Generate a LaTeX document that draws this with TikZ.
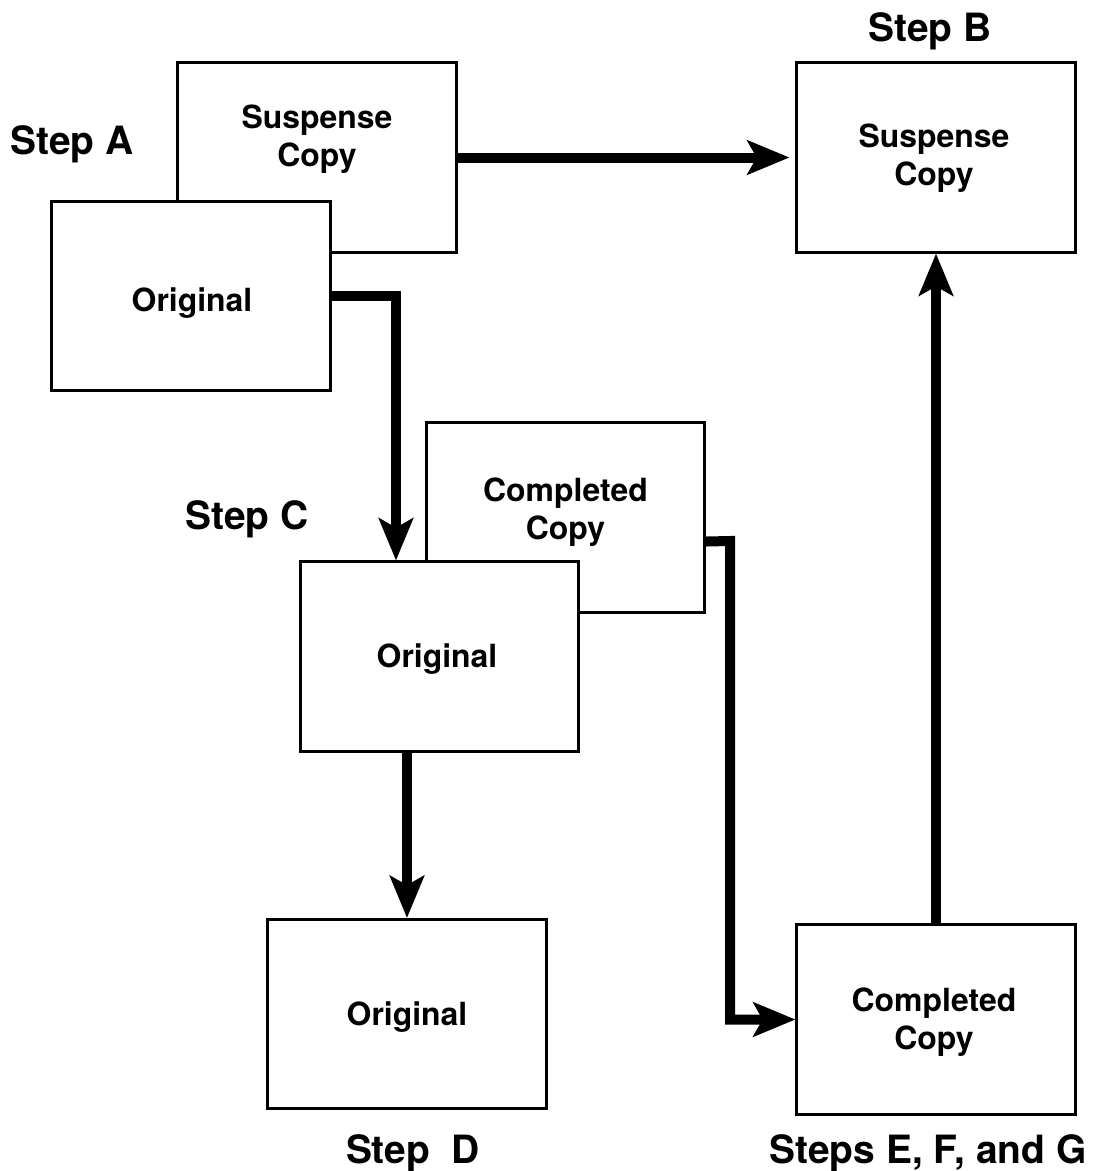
\documentclass[tikz,border=0pt]{standalone}
\usepackage{fontspec}
\setmainfont{TeX Gyre Heros}
\usetikzlibrary{arrows.meta}

\tikzset{
	paper/.style={draw, line width=0.075cm, fill=white, minimum width=6.95cm, minimum height=4.725cm, inner sep=0pt},
	boxtext/.style={align=center, font=\bfseries\fontsize{22.7}{27}\selectfont},
	steplabel/.style={font=\bfseries\fontsize{27.7}{33}\selectfont},
	flow/.style={line width=0.25cm, -{Stealth[length=1.05cm, width=0.85cm, inset=0.23cm]}}
}

\begin{document}
\begin{tikzpicture}[x=0.025cm, y=-0.025cm]
	\useasboundingbox (0,0) rectangle (1093,1171);
	
	% step A: suspense copy behind the original
	\node[paper] (supA) at (317,157.5) {};
	\node[boxtext] (supAtext) at (317,139) {Suspense\\Copy};
	\node[paper] (origA) at (191,296) {};
	\node[boxtext] (origAtext) at (192,303) {Original};
	
	% step B
	\node[paper] (supB) at (936,157.5) {};
	\node[boxtext] (supBtext) at (934,158) {Suspense\\Copy};
	
	% step C: completed copy behind the original
	\node[paper] (compC) at (565.5,517.5) {};
	\node[boxtext] (compCtext) at (565.5,512) {Completed\\Copy};
	\node[paper] (origC) at (439.5,656.5) {};
	\node[boxtext] (origCtext) at (437,659) {Original};
	
	% step D
	\node[paper] (origD) at (407,1014) {};
	\node[boxtext] (origDtext) at (407,1017) {Original};
	
	% steps E, F, G
	\node[paper] (compE) at (936,1019.5) {};
	\node[boxtext] (compEtext) at (934,1022) {Completed\\Copy};
	
	\node[steplabel] (stepA) at (72,144.5) {Step A};
	\node[steplabel] (stepB) at (930,31) {Step B};
	\node[steplabel] (stepC) at (247,519) {Step C};
	\node[steplabel] (stepD) at (413,1153) {Step\ \ D};
	\node[steplabel] (stepEFG) at (928,1153.5) {Steps E, F, and G};
	
	\coordinate (bendC) at (730,541);
	
	\draw[flow] (supA.east) -- ([xshift=-0.15cm]supB.west);
	\draw[flow] (origA.east) -| ([xshift=2.425cm]origC.north west);
	\draw[flow] (origC.south -| origD.north) -- (origD.north);
	\draw[flow] ([yshift=-0.6cm]compC.east) -- (bendC) |- (compE.west);
	\draw[flow] (compE.north) -- (supB.south);
	
\end{tikzpicture}
\end{document}
